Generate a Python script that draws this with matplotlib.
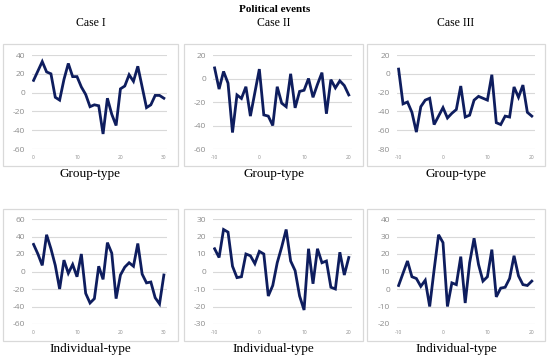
import matplotlib
matplotlib.use("Agg")
import matplotlib.pyplot as plt
from matplotlib.patches import Rectangle

plt.rcParams["axes.unicode_minus"] = False

W, H = 550, 361

# ---------------- data ----------------
x_case1 = list(range(0, 31))
x_case23 = list(range(-10, 21))

group_case1 = [13, 23, 33, 22, 20, -5, -8, 14, 31, 17, 17, 6, -2, -15, -13, -14, -44, -6,
               -23, -35, 4, 7, 19, 12, 28, 6, -16, -13, -3, -3, -6]
group_case2 = [9, -9, 6, -4, -46, -14, -17, -7, -32, -12, 8, -31, -32, -40, -7, -21, -24, 4,
               -25, -11, -10, 0, -16, -5, 5, -30, -1, -8, -2, -6, -14]
group_case3 = [5, -32, -30, -41, -62, -35, -28, -26, -54, -45, -36, -47, -42, -38, -13, -46,
               -44, -28, -24, -26, -28, -1, -52, -54, -45, -46, -14, -25, -12, -41, -45]
indiv_case1 = [31, 20, 7, 42, 26, 7, -20, 13, -2, 8, -6, 20, -25, -36, -31, 6, -9, 33, 21,
               -31, -4, 5, 10, 6, 32, -3, -13, -12, -30, -37, -4]
indiv_case2 = [13, 8, 24, 22.5, 3, -3.5, -3, 10, 9, 4.5, 11.5, 10, -14, -8, 5, 14, 24, 6,
               0.5, -14, -22, 13, -7, 13, 5, 6, -9, -10, 11, -2, 8]
indiv_case3 = [2, 9, 16, 7, 6, 1.5, 5, -10, 11, 31, 26.5, -10, 3.5, 2.5, 18.5, -8, 15, 29, 14,
               4.5, 7, 22.5, -4.5, 0.5, 1, 6, 19, 7.5, 2.5, 2, 4.5]

case_titles = ["Case I", "Case II", "Case III"]
row_titles = ["Group-type", "Individual-type"]
main_title = "Political events"

panels = [
    # (x, y, yticks, xticks)
    (x_case1, group_case1, [-60, -40, -20, 0, 20, 40], [0, 10, 20, 30]),
    (x_case23, group_case2, [-60, -40, -20, 0, 20], [-10, 0, 10, 20]),
    (x_case23, group_case3, [-80, -60, -40, -20, 0, 20], [-10, 0, 10, 20]),
    (x_case1, indiv_case1, [-60, -40, -20, 0, 20, 40, 60], [0, 10, 20, 30]),
    (x_case23, indiv_case2, [-30, -20, -10, 0, 10, 20, 30], [-10, 0, 10, 20]),
    (x_case23, indiv_case3, [-20, -10, 0, 10, 20, 30, 40], [-10, 0, 10, 20]),
]

# ---------------- layout (pixels) ----------------
boxes_x = [(3, 178), (184, 363), (367, 545)]
boxes_y = [(44, 166), (209, 341)]
plot_x = [(32, 167), (213, 352), (397, 535)]
plot_y = [(55, 149), (219, 324)]

LINE = "#0e1d5e"
GRID = "#d9d9d9"
TICK = "#8c8c8c"
serif = ["Liberation Serif", "DejaVu Serif"]
sans = ["Open Sans", "DejaVu Sans"]

fig = plt.figure(figsize=(W / 100, H / 100), dpi=100)

def fx(px):
    return px / W

def fy(py):
    return 1 - py / H

for i, (xs, ys, yt, xt) in enumerate(panels):
    r, c = divmod(i, 3)
    bx0, bx1 = boxes_x[c]
    by0, by1 = boxes_y[r]
    fig.patches.append(Rectangle((fx(bx0), fy(by1)), fx(bx1 - bx0), (by1 - by0) / H,
                                 transform=fig.transFigure, fill=False,
                                 edgecolor=GRID, linewidth=0.9, zorder=0))
    px0, px1 = plot_x[c]
    py0, py1 = plot_y[r]
    ax = fig.add_axes([fx(px0), fy(py1), fx(px1 - px0), (py1 - py0) / H])
    ax.plot(xs, ys, color=LINE, linewidth=2.0, solid_joinstyle="miter", zorder=3)
    ax.set_ylim(yt[0], yt[-1])
    ax.set_yticks(yt)
    ax.set_xticks(xt)
    pad = (xs[-1] - xs[0]) * 0.012
    ax.set_xlim(xs[0] - pad, xs[-1] + pad * 2)
    ax.grid(axis="y", color=GRID, linewidth=0.8, zorder=0)
    for s in ax.spines.values():
        s.set_visible(False)
    ax.tick_params(axis="both", length=0, colors=TICK)
    ax.tick_params(axis="y", labelsize=6, pad=5)
    ax.tick_params(axis="x", labelsize=3.5, pad=4)
    for lab in ax.get_yticklabels() + ax.get_xticklabels():
        lab.set_family(sans)
    ax.set_facecolor("none")

# titles
fig.text(0.5, fy(9), main_title, ha="center", va="center", fontsize=8,
         fontweight="bold", family=serif)
for c, t in enumerate(case_titles):
    cx = (boxes_x[c][0] + boxes_x[c][1]) / 2
    fig.text(fx(cx), fy(23), t, ha="center", va="center", fontsize=8.5, family=serif)
row_y = [174, 349]
for r, t in enumerate(row_titles):
    for c in range(3):
        cx = (boxes_x[c][0] + boxes_x[c][1]) / 2
        fig.text(fx(cx), fy(row_y[r]), t, ha="center", va="center", fontsize=9.5,
                 family=serif)

fig.savefig("out.png", dpi=100)
